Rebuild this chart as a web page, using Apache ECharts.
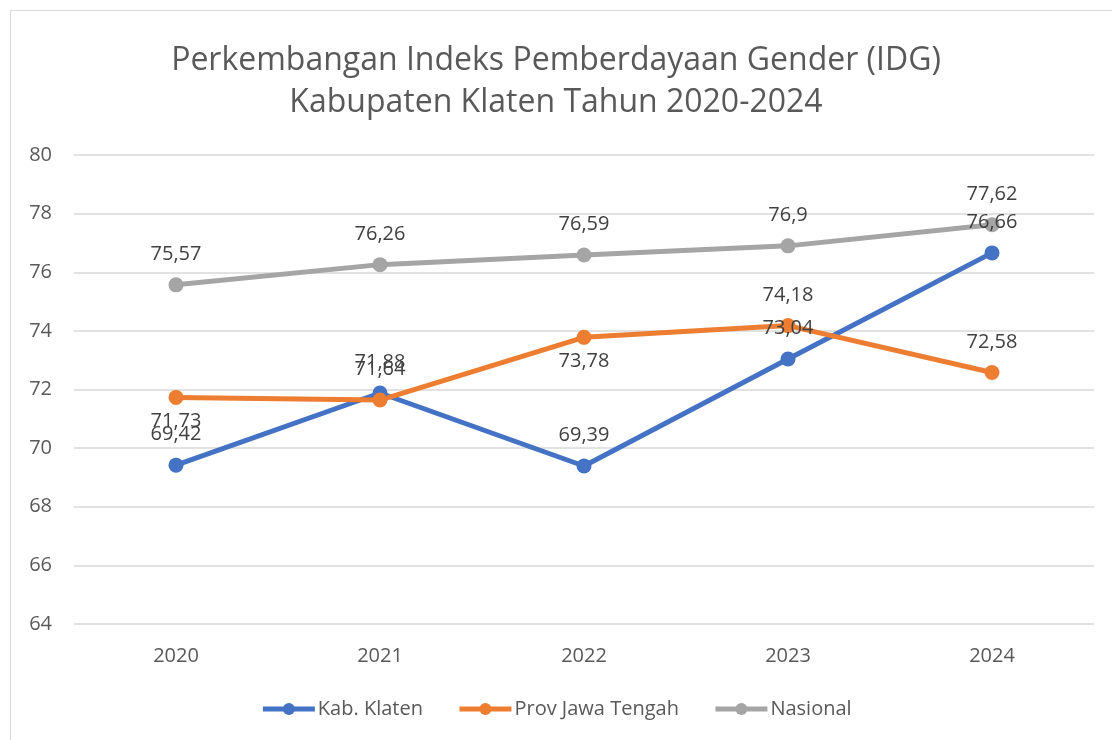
<!DOCTYPE html>
<html>
<head>
<meta charset="utf-8">
<script src="https://cdn.jsdelivr.net/npm/echarts@6/dist/echarts.min.js"></script>
<style>
  html, body { margin: 0; padding: 0; background: #fff; }
  #frame {
    position: absolute; left: 10px; top: 10px; width: 1120px; height: 740px;
    border: 1px solid #d9d9d9; box-sizing: border-box;
  }
  #chart { position: absolute; left: 0; top: 0; width: 1112px; height: 740px; }
</style>
</head>
<body>
<div id="frame"></div>
<div id="chart"></div>
<script>
  const years = ['2020', '2021', '2022', '2023', '2024'];
  const kabKlaten = [69.42, 71.88, 69.39, 73.04, 76.66];
  const provJateng = [71.73, 71.64, 73.78, 74.18, 72.58];
  const nasional = [75.57, 76.26, 76.59, 76.9, 77.62];
  const yTicks = [64, 66, 68, 70, 72, 74, 76, 78, 80];

  const COLORS = { blue: '#4472c4', orange: '#ed7d31', gray: '#a5a5a5', text: '#595959', label: '#404040' };
  const FONT = '"Open Sans", sans-serif';

  // indexes whose label sits under the point instead of above
  const belowIdx = { 'Prov Jawa Tengah': [0, 2] };

  function fmt(p) { return String(p.value).replace('.', ','); }

  function makeSeries(name, values, color) {
    const below = belowIdx[name] || [];
    return {
      name: name,
      type: 'line',
      data: values.map((v, i) => below.includes(i)
        ? { value: v, label: { position: 'bottom', distance: 6 } }
        : v),
      symbol: 'circle',
      symbolSize: 15,
      lineStyle: { width: 5, color: color },
      itemStyle: { color: color },
      label: {
        show: true, position: 'top', distance: 13,
        formatter: fmt, color: COLORS.label, fontSize: 20, fontFamily: FONT
      },
      z: 2
    };
  }

  const chart = echarts.init(document.getElementById('chart'));
  chart.setOption({
    animation: false,
    title: {
      text: 'Perkembangan Indeks Pemberdayaan Gender (IDG)\nKabupaten Klaten Tahun 2020-2024',
      left: 'center', top: 35,
      textStyle: { color: COLORS.text, fontSize: 32, fontWeight: 'normal', fontFamily: FONT, lineHeight: 42 }
    },
    legend: {
      bottom: 16, left: 'center',
      itemWidth: 52, itemHeight: 15, itemGap: 34,
      lineStyle: { width: 5 },
      textStyle: { color: COLORS.text, fontSize: 20, fontFamily: FONT, padding: [0, 0, 0, -2] },
      data: ['Kab. Klaten', 'Prov Jawa Tengah', 'Nasional']
    },
    grid: { left: 74, right: 18, top: 155, bottom: 116 },
    xAxis: {
      type: 'category', data: years, boundaryGap: true,
      axisLine: { show: false }, axisTick: { show: false },
      axisLabel: { color: COLORS.text, fontSize: 20, fontFamily: FONT, margin: 22 }
    },
    yAxis: {
      type: 'value', min: yTicks[0], max: yTicks[yTicks.length - 1], interval: 2,
      axisLine: { show: false }, axisTick: { show: false },
      axisLabel: { color: COLORS.text, fontSize: 20, fontFamily: FONT, margin: 22 },
      splitLine: { lineStyle: { color: '#d9d9d9', width: 1.5 } }
    },
    series: [
      makeSeries('Kab. Klaten', kabKlaten, COLORS.blue),
      makeSeries('Prov Jawa Tengah', provJateng, COLORS.orange),
      makeSeries('Nasional', nasional, COLORS.gray)
    ]
  });
</script>
</body>
</html>
